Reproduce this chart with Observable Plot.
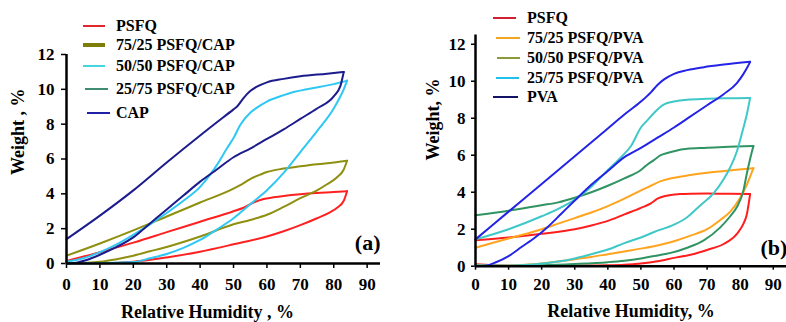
<!DOCTYPE html>
<html><head><meta charset="utf-8">
<script src="https://cdn.jsdelivr.net/npm/d3@7"></script>
<script src="https://cdn.jsdelivr.net/npm/@observablehq/plot@0.6"></script>
<style>
body{margin:0;background:#fff;}
#wrap{position:relative;width:786px;height:322px;display:flex;overflow:hidden;}
.panel{position:relative;width:393px;height:322px;overflow:hidden;}
.panel svg{display:block;}
.row{position:absolute;display:flex;align-items:center;height:20px;white-space:nowrap;
 font:bold 16px "Liberation Serif","Times New Roman",serif;color:#000;}
.row .ln{display:inline-block;}
</style></head>
<body><div id="wrap"><div class="panel" id="pa"></div><div class="panel" id="pb"></div></div>
<script>
// ---------- data ----------
const rhTicks = [0, 10, 20, 30, 40, 50, 60, 70, 80, 90];
const wTicks = [0, 2, 4, 6, 8, 10, 12];

const seriesA = ["PSFQ", "75/25 PSFQ/CAP", "50/50 PSFQ/CAP", "25/75 PSFQ/CAP", "CAP"];
const seriesB = ["PSFQ", "75/25 PSFQ/PVA", "50/50 PSFQ/PVA", "25/75 PSFQ/PVA", "PVA"];

// each loop: sorption branch (rising RH) then desorption branch back to 0 RH  [RH %, weight %]
const a_PSFQ = [[0,0.02],[12,0.02],[20,0.1],[30,0.35],[40,0.68],[50,1.1],[60,1.55],[65,1.85],[70,2.2],[75,2.6],[79,2.95],[81,3.2],[83,3.6],[84,4.15],
  [80,4.1],[75,4.05],[70,3.98],[65,3.88],[62,3.8],[59,3.7],[56,3.5],[53,3.2],[50,3.0],[40,2.4],[30,1.8],[20,1.2],[10,0.65],[0,0.15]];
const a_7525 = [[0,0.02],[5,0.03],[10,0.1],[15,0.25],[20,0.45],[25,0.7],[30,0.95],[40,1.55],[50,2.25],[55,2.5],[60,2.8],[65,3.25],[70,3.75],[75,4.2],[78,4.55],[81,4.95],[83,5.4],[84,5.9],
  [80,5.8],[75,5.7],[70,5.58],[65,5.45],[60,5.25],[58,5.1],[55,4.85],[52,4.5],[50,4.3],[40,3.5],[30,2.7],[20,1.9],[10,1.15],[0,0.45]];
const a_5050 = [[0,0],[10,0.02],[20,0.08],[25,0.3],[30,0.55],[35,0.9],[40,1.35],[45,1.95],[50,2.6],[55,3.4],[60,4.2],[65,5.2],[70,6.4],[75,7.6],[80,8.9],[82,9.6],[83,10.0],[84,10.5],
  [80,10.3],[76,10.15],[72,10.0],[68,9.85],[64,9.6],[60,9.3],[57,8.95],[55,8.65],[52,7.95],[50,7.2],[48,6.6],[45,5.65],[43,5.1],[40,4.4],[35,3.6],[30,2.9],[25,2.25],[20,1.65],[15,1.1],[10,0.65],[5,0.3],[0,0.1]];
const a_CAP = [[0,0],[3,0.05],[6,0.2],[10,0.5],[15,0.95],[20,1.5],[25,2.3],[30,3.1],[35,3.9],[40,4.7],[45,5.4],[50,6.1],[55,6.6],[60,7.15],[65,7.7],[70,8.3],[75,8.9],[80,9.6],[82,10.2],[83,11.0],
  [78,10.9],[70,10.75],[65,10.6],[60,10.4],[57,10.15],[55,9.9],[53,9.5],[51,9.0],[50,8.85],[40,7.35],[30,5.8],[20,4.2],[10,2.75],[0,1.4]];

const b_PSFQ = [[0,0.1],[5,0.05],[10,0.03],[20,0.02],[30,0.03],[40,0.05],[45,0.08],[50,0.15],[55,0.27],[60,0.45],[65,0.62],[70,0.88],[75,1.2],[79,1.75],[81,2.3],[82,2.8],[83,3.9],
  [75,3.92],[70,3.93],[65,3.92],[62,3.9],[59,3.85],[57,3.78],[55,3.65],[53,3.4],[50,3.15],[45,2.8],[40,2.45],[35,2.2],[30,2.0],[20,1.75],[10,1.55],[0,1.4]];
const b_7525 = [[0,0.05],[10,0.03],[15,0.08],[20,0.15],[25,0.25],[30,0.38],[35,0.5],[40,0.65],[45,0.8],[50,0.95],[55,1.12],[60,1.35],[65,1.65],[70,2.0],[74,2.5],[77,2.95],[80,3.7],[82,4.4],[84,5.3],
  [78,5.2],[70,5.05],[64,4.9],[60,4.78],[58,4.7],[56,4.6],[53,4.35],[50,4.1],[45,3.65],[40,3.25],[35,2.9],[30,2.6],[25,2.3],[20,2.0],[10,1.5],[0,1.0]];
const b_5050 = [[0,0.03],[10,0.02],[20,0.05],[30,0.12],[40,0.22],[45,0.3],[50,0.42],[55,0.58],[59,0.72],[64,1.0],[69,1.4],[74,2.1],[77,2.7],[79,3.2],[81,4.1],[82,5.0],[83,5.8],[84,6.5],
  [75,6.45],[70,6.4],[64,6.35],[60,6.22],[58,6.12],[56,6.0],[54,5.75],[52,5.5],[50,5.2],[45,4.75],[40,4.35],[35,4.0],[30,3.7],[25,3.45],[20,3.3],[10,3.0],[0,2.75]];
const b_2575 = [[0,0.05],[10,0.03],[18,0.1],[25,0.25],[30,0.42],[35,0.65],[40,0.9],[45,1.25],[50,1.55],[54,1.85],[60,2.25],[64,2.65],[68,3.3],[72,3.95],[75,4.7],[77,5.35],[79,6.2],[81,7.5],[82,8.2],[83,9.1],
  [75,9.08],[70,9.05],[64,9.0],[60,8.9],[57,8.75],[54,8.3],[52,7.9],[50,7.5],[47,6.5],[44,5.9],[40,5.2],[35,4.3],[30,3.6],[25,3.1],[20,2.7],[10,2.0],[0,1.45]];
const b_PVA = [[0,0],[3,0.02],[6,0.2],[10,0.55],[14,1.05],[18,1.55],[22,2.15],[26,2.85],[30,3.55],[35,4.4],[40,5.15],[45,5.9],[50,6.4],[55,6.95],[60,7.5],[65,8.1],[70,8.7],[75,9.3],[79,9.9],[81,10.4],[82,10.7],[83,11.05],
  [75,10.9],[69,10.76],[64,10.6],[60,10.4],[57,10.1],[55,9.8],[53,9.4],[50,8.9],[45,8.2],[40,7.45],[30,5.95],[20,4.45],[10,2.95],[0,1.45]];

const loopsA = [a_PSFQ, a_7525, a_5050, null, a_CAP];   // 25/75 PSFQ/CAP: legend only, no curve drawn
const loopsB = [b_PSFQ, b_7525, b_5050, b_2575, b_PVA];

// ---------- styles ----------
const curveColorsA = ["#ff2020", "#8f8f10", "#2ec8f5", "#3a8a6c", "#1c1c8c"];
const legendColorsA = ["#e3262e", "#7d7d08", "#45d6dc", "#3f8c72", "#2020a8"];
const curveColorsB = ["#ff1e1e", "#ffa41c", "#2f9462", "#40c8c8", "#2424e6"];
const legendColorsB = ["#cf2030", "#f2a424", "#8c9a3c", "#1ec0ee", "#141466"];

const legendLayoutA = [ // [lineLeft, lineWidth, gapToText, rowCenterY, thickness]
  [83, 22, 11, 26, 2], [83, 22, 11, 45, 3.5], [83, 22, 11, 66, 2], [85, 23, 8, 88.5, 2], [87, 23, 6, 112.5, 2]];
const legendLayoutB = [
  [100, 23, 11, 18, 2], [103, 24, 7, 38, 2], [104, 23, 7, 58, 2], [103, 23, 8, 77.5, 2], [100, 25, 9, 97, 2]];

const FONT = '"Liberation Serif","Times New Roman",serif';

function toRows(series, loops) {
  const rows = [];
  series.forEach((name, si) => {
    const pts = loops[si];
    if (!pts) return;
    let k = 0;
    pts.forEach((p, i) => { if (p[0] > pts[k][0]) k = i; });
    const up = pts.slice(0, k + 1), down = pts.slice(k).slice().reverse();
    up.forEach(([rh, w]) => rows.push({series: name, branch: "sorption", rh, w}));
    down.forEach(([rh, w]) => rows.push({series: name, branch: "desorption", rh, w}));
  });
  return rows;
}

function panel(cfg) {
  const data = toRows(cfg.series, cfg.loops);
  return Plot.plot({
    width: 393, height: 322,
    marginLeft: cfg.ml, marginRight: cfg.mr, marginTop: cfg.mt, marginBottom: cfg.mb,
    x: {domain: [0, 94]},
    y: {domain: [0, cfg.ymax]},
    color: {domain: cfg.series, range: cfg.colors},
    style: {fontFamily: FONT, color: "#000", background: "#fff", overflow: "visible"},
    marks: [
      Plot.axisX(rhTicks, {tickSize: cfg.xts, tickPadding: cfg.xtp, fontSize: 17, fontWeight: "bold", fontFamily: FONT, strokeWidth: 1.5, label: null}),
      Plot.axisY(wTicks, {tickSize: cfg.yts, tickPadding: cfg.ytp, fontSize: 17, fontWeight: "bold", fontFamily: FONT, strokeWidth: 1.5, label: null}),
      Plot.line(data, {x: "rh", y: "w", z: d => d.series + "|" + d.branch, stroke: "series", strokeWidth: 2, curve: "monotone-x"}),
      Plot.ruleY([0], {stroke: "#000", strokeWidth: 2.5}),
      Plot.ruleX([0], {stroke: "#000", strokeWidth: 2.5}),
      Plot.text([cfg.ylabel], {text: d => d, frameAnchor: "left", rotate: -90, dx: cfg.ylDx, dy: cfg.ylDy, fontSize: 18, fontWeight: "bold", fontFamily: FONT, fill: "#000"}),
      Plot.text([cfg.xlabel], {text: d => d, frameAnchor: "bottom", lineAnchor: "top", dx: cfg.xlDx, dy: cfg.xlDy, fontSize: 18, fontWeight: "bold", fontFamily: FONT, fill: "#000"}),
      Plot.text([cfg.tag], {text: d => d, frameAnchor: "bottom-right", textAnchor: cfg.tagAnchor, lineAnchor: "middle", dx: cfg.tagDx, dy: cfg.tagDy, fontSize: 22, fontWeight: "bold", fontFamily: FONT, fill: "#000"})
    ]
  });
}

function legend(el, series, colors, layout) {
  series.forEach((name, i) => {
    const [left, w, gap, cy, th] = layout[i];
    const row = document.createElement("div");
    row.className = "row";
    row.style.left = left + "px";
    row.style.top = (cy - 10) + "px";
    const ln = document.createElement("span");
    ln.className = "ln";
    ln.style.width = w + "px";
    ln.style.height = th + "px";
    ln.style.background = colors[i];
    ln.style.marginRight = gap + "px";
    const tx = document.createElement("span");
    tx.textContent = name;
    row.append(ln, tx);
    el.append(row);
  });
}

const pa = document.getElementById("pa");
pa.append(panel({
  series: seriesA, loops: loopsA, colors: curveColorsA,
  ml: 66, mr: 13, mt: 54, mb: 59, ymax: 12,
  xts: 5, xtp: 9, yts: 5, ytp: 7,
  ylabel: "Weight , %", ylDx: -48, ylDy: 16,
  xlabel: "Relative Humidity , %", xlDx: -16, xlDy: 41.5,
  tag: "(a)", tagAnchor: "end", tagDx: 0, tagDy: -21
}));
legend(pa, seriesA, legendColorsA, legendLayoutA);

const pb = document.getElementById("pb");
pb.append(panel({
  series: seriesB, loops: loopsB, colors: curveColorsB,
  ml: 82, mr: 0, mt: 34.5, mb: 56.3, ymax: 12.5,
  xts: 4, xtp: 8, yts: 4, ytp: 6,
  ylabel: "Weight, %", ylDx: -42, ylDy: 10,
  xlabel: "Relative Humidity, %", xlDx: 0, xlDy: 38.5,
  tag: "(b)", tagAnchor: "start", tagDx: -26, tagDy: -18
}));
legend(pb, seriesB, legendColorsB, legendLayoutB);
</script></body></html>
